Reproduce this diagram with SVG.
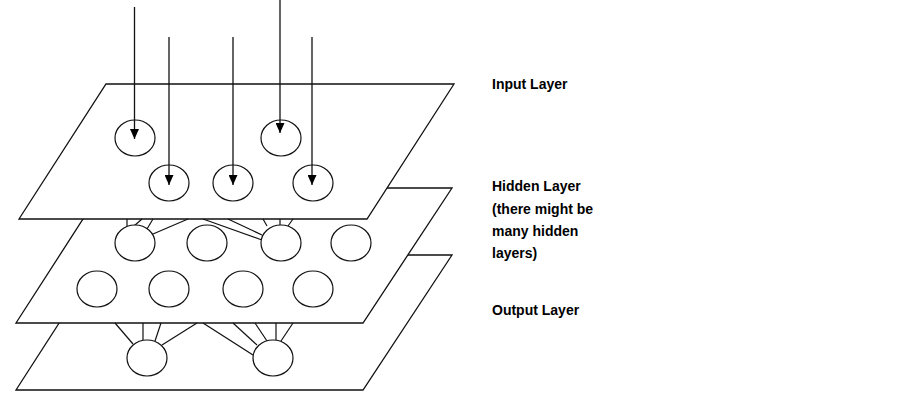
<svg xmlns="http://www.w3.org/2000/svg" width="903" height="400" viewBox="0 0 903 400">
<style>
.plane{fill:#fff;stroke:#111;stroke-width:1.3}
.node{fill:#fff;stroke:#111;stroke-width:1.2}
.conn line{stroke:#111;stroke-width:1.2}
.arrow{stroke:#111;stroke-width:1.3;marker-end:url(#ah)}
.lbl{font-family:"Liberation Sans",Arial,sans-serif;font-weight:bold;font-size:14px;fill:#000}
</style>
<defs>
<marker id="ah" markerWidth="10" markerHeight="9" refX="10" refY="4.5" orient="auto" markerUnits="userSpaceOnUse" viewBox="0 0 10 9">
<path d="M0,0 L10,4.5 L0,9 Z" fill="#000"/>
</marker>
</defs>
<rect width="903" height="400" fill="#fff"/>
<g id="output-layer"><polygon class="plane" points="103,255 452,255 363,390 16,390"/></g>
<g id="hidden-layer"><polygon class="plane" points="103,188 452,188 363,323 16,323"/></g>
<g id="input-layer"><polygon class="plane" points="106,84 454,84 367,219 19,219"/></g>
<g id="connectors" class="conn">
<line x1="127" y1="219" x2="127" y2="227"/>
<line x1="142" y1="219" x2="134" y2="226"/>
<line x1="153" y1="219" x2="147" y2="229"/>
<line x1="188" y1="219" x2="153" y2="234"/>
<line x1="203" y1="219" x2="262" y2="240"/>
<line x1="228" y1="219" x2="262" y2="235"/>
<line x1="263" y1="219" x2="267" y2="226"/>
<line x1="280" y1="219" x2="280" y2="225"/>
<line x1="293" y1="219" x2="288" y2="226"/>
<line x1="115" y1="323" x2="133" y2="344"/>
<line x1="143" y1="323" x2="143" y2="340"/>
<line x1="161" y1="323" x2="155" y2="341"/>
<line x1="197" y1="323" x2="162" y2="345"/>
<line x1="203" y1="323" x2="253" y2="355"/>
<line x1="233" y1="323" x2="257" y2="345"/>
<line x1="255" y1="323" x2="267" y2="341"/>
<line x1="276" y1="323" x2="276" y2="340"/>
<line x1="293" y1="323" x2="281" y2="341"/>
</g>
<g id="in1"><ellipse class="node" cx="135" cy="138" rx="20" ry="18"/></g>
<g id="in2"><ellipse class="node" cx="281" cy="138" rx="20" ry="18"/></g>
<g id="in3"><ellipse class="node" cx="169" cy="183" rx="20" ry="18"/></g>
<g id="in4"><ellipse class="node" cx="233" cy="183" rx="20" ry="18"/></g>
<g id="in5"><ellipse class="node" cx="313" cy="183" rx="20" ry="18"/></g>
<g id="h1"><ellipse class="node" cx="135" cy="243" rx="20" ry="18"/></g>
<g id="h2"><ellipse class="node" cx="207" cy="243" rx="20" ry="18"/></g>
<g id="h3"><ellipse class="node" cx="281" cy="243" rx="20" ry="18"/></g>
<g id="h4"><ellipse class="node" cx="351" cy="243" rx="20" ry="18"/></g>
<g id="h5"><ellipse class="node" cx="97" cy="289" rx="20" ry="18"/></g>
<g id="h6"><ellipse class="node" cx="169" cy="289" rx="20" ry="18"/></g>
<g id="h7"><ellipse class="node" cx="243" cy="289" rx="20" ry="18"/></g>
<g id="h8"><ellipse class="node" cx="313" cy="289" rx="20" ry="18"/></g>
<g id="o1"><ellipse class="node" cx="147" cy="358" rx="20" ry="18"/></g>
<g id="o2"><ellipse class="node" cx="273" cy="358" rx="20" ry="18"/></g>
<g id="inputs">
<line class="arrow" x1="134.5" y1="7" x2="134.5" y2="139"/>
<line class="arrow" x1="280" y1="0" x2="280" y2="133"/>
<line class="arrow" x1="169" y1="37" x2="169" y2="185"/>
<line class="arrow" x1="233" y1="37" x2="233" y2="185"/>
<line class="arrow" x1="312" y1="37" x2="312" y2="185"/>
</g>
<g id="labels" class="lbl">
<text x="492" y="89">Input Layer</text>
<text x="492" y="191">Hidden Layer</text>
<text x="492" y="214">(there might be</text>
<text x="492" y="236">many hidden</text>
<text x="492" y="258">layers)</text>
<text x="492" y="315">Output Layer</text>
</g>
</svg>
